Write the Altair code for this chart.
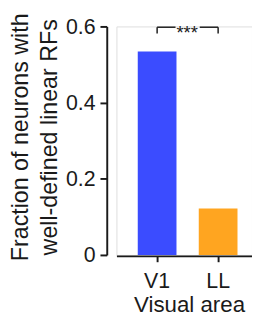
import altair as alt
import pandas as pd

areas = ["V1", "LL"]
fractions = [0.534, 0.122]
colors = ["#3B4CFF", "#FFA520"]
sig_label = "***"
y_ticks = [0, 0.2, 0.4, 0.6]

df = pd.DataFrame({"area": areas, "frac": fractions, "color": colors})
sig = pd.DataFrame({"a": [areas[0]], "b": [areas[1]], "y": [0.598], "y0": [0.5814], "label": [sig_label]})

FONT = "Liberation Sans"
INK = "#1a1a1a"

xscale = alt.Scale(domain=areas, paddingInner=0.365, paddingOuter=0.2935, align=0.595)
yscale = alt.Scale(domain=[0, 0.6], nice=False, zero=True)

bars = alt.Chart(df).mark_bar(size=40).encode(
    x=alt.X("area:N", scale=xscale, sort=areas,
            axis=alt.Axis(title="Visual area", labelAngle=0, labelFontSize=22, titleFontSize=23,
                          labelFont=FONT, titleFont=FONT, labelColor=INK, titleColor=INK,
                          titleFontWeight="normal", domainColor=INK, domainWidth=2,
                          tickColor=INK, tickWidth=2, tickSize=6, labelPadding=10,
                          titlePadding=2, titleX=75, titleAlign="center", offset=1)),
    y=alt.Y("frac:Q", scale=yscale,
            axis=alt.Axis(title=["Fraction of neurons with", "well-defined linear RFs"],
                          values=y_ticks,
                          labelExpr="datum.value == 0 ? '0' : format(datum.value, '.1f')",
                          labelFontSize=22, titleFontSize=24, labelFont=FONT, titleFont=FONT,
                          labelColor=INK, titleColor=INK, titleFontWeight="normal",
                          titleLineHeight=30, domainColor=INK, domainWidth=2, tickColor=INK,
                          tickWidth=2, tickSize=7, labelPadding=5, titlePadding=4, offset=10,
                          titleY=114, titleAlign="center", grid=False)),
    color=alt.Color("color:N", scale=None),
)

seg1 = alt.Chart(sig).mark_rule(color=INK, strokeWidth=1.5, x2Offset=19).encode(
    x=alt.X("a:N", scale=xscale), x2="a:N", y="y:Q")
seg2 = alt.Chart(sig).mark_rule(color=INK, strokeWidth=1.5, xOffset=-19).encode(
    x=alt.X("b:N", scale=xscale), x2="b:N", y="y:Q")
tick1 = alt.Chart(sig).mark_rule(color=INK, strokeWidth=1.5).encode(
    x=alt.X("a:N", scale=xscale), y="y:Q", y2="y0:Q")
tick2 = alt.Chart(sig).mark_rule(color=INK, strokeWidth=1.5).encode(
    x=alt.X("b:N", scale=xscale), y="y:Q", y2="y0:Q")
stars = alt.Chart(sig).mark_text(font=FONT, fontSize=19, color=INK, dy=12, baseline="alphabetic",
                                 align="center", xOffset=31).encode(
    x=alt.X("a:N", scale=xscale), y="y:Q", text="label:N")

chart = alt.layer(bars, seg1, seg2, tick1, tick2, stars).properties(
    width=140, height=236,
    padding={"left": 112, "top": 14, "right": 0, "bottom": 58},
    autosize=alt.AutoSizeParams(type="none"),
).configure_view(stroke=None).configure(background="white")

chart.save("out.html", embed_options={"renderer": "svg", "actions": False})
